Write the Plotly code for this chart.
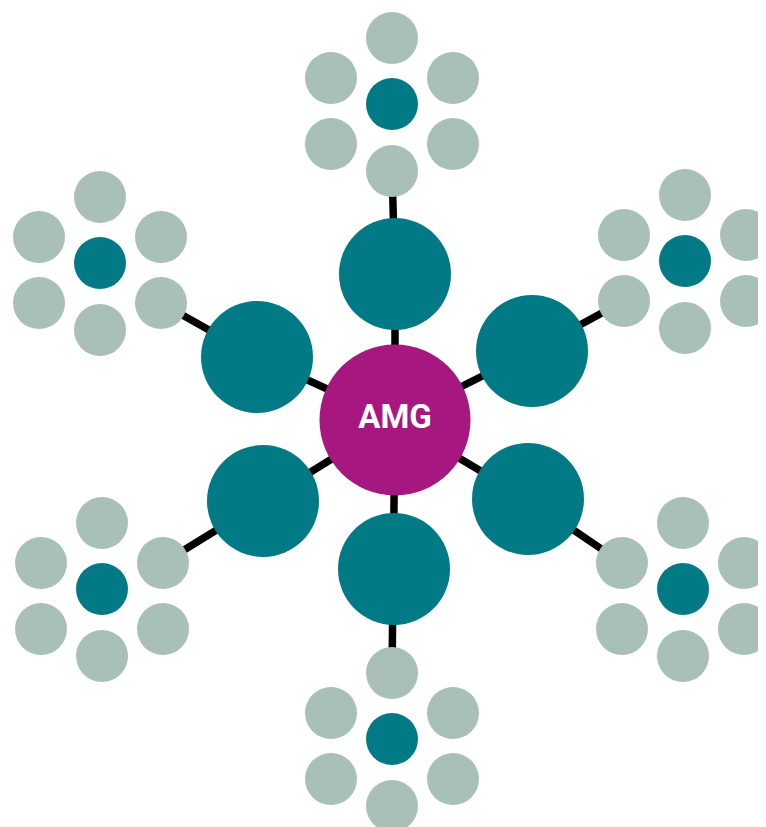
import plotly.graph_objects as go

# Hub
hub_label = "AMG"
hub_x = [395]
hub_y = [420]

# Six spokes (order: top, upper-right, lower-right, bottom, lower-left, upper-left)
spoke_x = [395, 532, 528, 394, 263, 257]
spoke_y = [274, 351, 499, 569, 501, 357]

# Cluster centres (small teal)
cluster_x = [392, 685, 683, 392, 102, 100]
cluster_y = [104, 261, 589, 739, 589, 263]

# Ring layout of six grey satellites around each cluster centre
ring_dx = [0, -61, 61, -61, 61, 0]
ring_dy = [-66, -26, -26, 40, 40, 67]

# Which satellite each spoke connects to
link_idx = [5, 3, 1, 0, 2, 4]

TEAL = "#017A86"
GREY = "#A9C0B8"
MAGENTA = "#A6177F"

fig = go.Figure()

# Connector lines
lx, ly = [], []
for i in range(6):
    j = link_idx[i]
    sx = cluster_x[i] + ring_dx[j]
    sy = cluster_y[i] + ring_dy[j]
    lx += [hub_x[0], spoke_x[i], sx, None]
    ly += [hub_y[0], spoke_y[i], sy, None]
fig.add_trace(go.Scatter(x=lx, y=ly, mode="lines",
                         line=dict(color="black", width=7.5),
                         hoverinfo="skip", showlegend=False))

# Grey satellites
gx, gy = [], []
for i in range(6):
    for j in range(6):
        gx.append(cluster_x[i] + ring_dx[j])
        gy.append(cluster_y[i] + ring_dy[j])
fig.add_trace(go.Scatter(x=gx, y=gy, mode="markers",
                         marker=dict(size=52, color=GREY, line=dict(width=0)),
                         hoverinfo="skip", showlegend=False))

# Cluster centres
fig.add_trace(go.Scatter(x=cluster_x, y=cluster_y, mode="markers",
                         marker=dict(size=52, color=TEAL, line=dict(width=0)),
                         hoverinfo="skip", showlegend=False))

# Spokes
fig.add_trace(go.Scatter(x=spoke_x, y=spoke_y, mode="markers",
                         marker=dict(size=112, color=TEAL, line=dict(width=0)),
                         hoverinfo="skip", showlegend=False))

# Hub
fig.add_trace(go.Scatter(x=hub_x, y=hub_y, mode="markers+text",
                         marker=dict(size=151, color=MAGENTA, line=dict(width=0)),
                         text=[hub_label], textposition="middle center",
                         textfont=dict(family="Roboto", size=33, color="white", weight="bold"),
                         hoverinfo="skip", showlegend=False))

# The page body has an 8px margin, so the figure is offset by 8px;
# the axis ranges compensate so that one unit = one screen pixel.
fig.update_layout(
    width=766, height=819,
    margin=dict(l=0, r=0, t=0, b=0),
    paper_bgcolor="white", plot_bgcolor="white",
    xaxis=dict(range=[8, 774], visible=False, fixedrange=True),
    yaxis=dict(range=[827, 8], visible=False, fixedrange=True),
)

fig.write_html("out.html")
